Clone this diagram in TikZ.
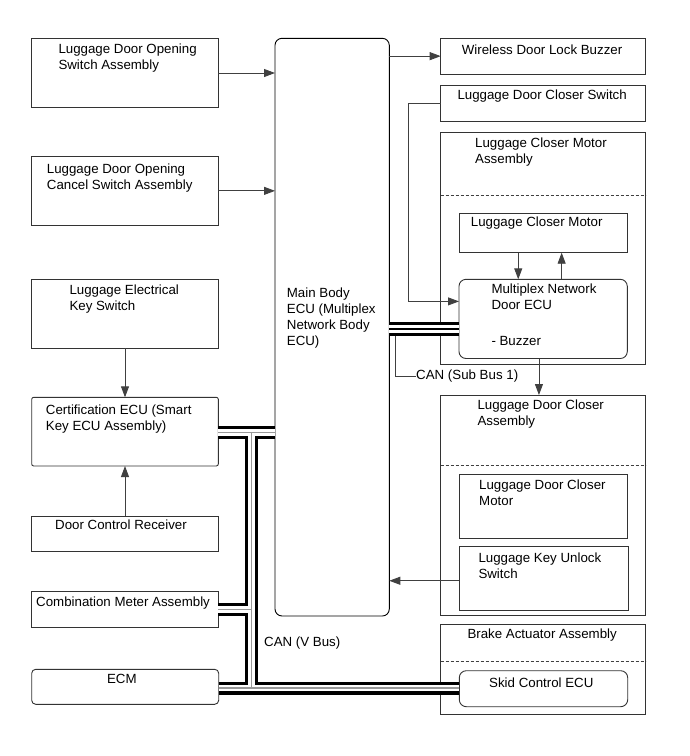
\documentclass[tikz,border=0pt]{standalone}
\usepackage{fontspec}
\setmainfont{Liberation Sans}
\usepackage{tikz}
\usetikzlibrary{arrows.meta}

\begin{document}
\begin{tikzpicture}[x=1pt,y=-1pt,
  box/.style={draw=black!80, line width=0.9pt, anchor=north west, inner sep=0pt, outer sep=0pt},
  ecu/.style={box, rounded corners=7pt},
  txt/.style={anchor=north west, align=left, inner sep=0pt, font=\fontsize{13.3}{16}\selectfont},
  link/.style={draw=black!75, line width=0.9pt},
  arr/.style={link, -{Triangle[length=11pt,width=8pt]}},
  sep/.style={draw=black!75, line width=0.8pt, dash pattern=on 3pt off 2pt},
  vbus/.style={draw=black, line width=13pt, postaction={draw=white, line width=6.6pt, postaction={draw=black!40, line width=1.2pt}}},
  sbus/.style={draw=black, line width=14pt, postaction={draw=white, line width=8.6pt, postaction={draw=black, line width=2.8pt}}}]
\useasboundingbox (0,0) rectangle (689,756);

\node[box, minimum width=186.6pt, minimum height=69.4pt] (opensw) at (31.7,38.3) {};
\node[box, minimum width=186.6pt, minimum height=68.3pt] (cancelsw) at (31.7,156.7) {};
\node[box, minimum width=186.6pt, minimum height=69pt] (keysw) at (31.7,279.3) {};
\node[box, rounded corners=2pt, minimum width=186.6pt, minimum height=68.7pt] (cert) at (31.7,397.3) {};
\node[box, minimum width=186.6pt, minimum height=35.7pt] (receiver) at (31.7,516) {};
\node[box, minimum width=186.6pt, minimum height=36pt] (combo) at (31.7,591.7) {};
\node[box, rounded corners=4pt, minimum width=187pt, minimum height=35pt] (ecm) at (31.7,669.3) {};
\node[ecu, draw=black, minimum width=114.3pt, minimum height=577.7pt] (main) at (275,38.3) {};
\node[box, minimum width=205pt, minimum height=35.7pt] (wireless) at (440.7,38.3) {};
\node[box, minimum width=205pt, minimum height=35.3pt] (closersw) at (440.7,85.7) {};
\node[box, minimum width=205pt, minimum height=231.7pt] (motorassy) at (440.7,132.3) {};
\node[box, minimum width=168.3pt, minimum height=39.4pt] (motor) at (459,213.3) {};
\node[ecu, minimum width=168.3pt, minimum height=79.2pt] (doorecu) at (459,279.3) {};
\node[box, minimum width=205pt, minimum height=220pt] (closerassy) at (440.7,395) {};
\node[box, minimum width=168.3pt, minimum height=64.3pt] (closermotor) at (459,474) {};
\node[box, minimum width=169.3pt, minimum height=63.3pt] (keyunlock) at (459,546.7) {};
\node[box, minimum width=205pt, minimum height=89.7pt] (brake) at (440.7,624.3) {};
\node[ecu, minimum width=168.4pt, minimum height=36pt] (skid) at (459.3,670.7) {};

\draw[sep] (440.7,195) -- (645.7,195);
\draw[sep] (440.7,465.7) -- (645.7,465.7);
\draw[sep] (440.7,661.7) -- (645.7,661.7);

\node[txt] (opensw-t) at (58.3,44) {Luggage Door Opening\\Switch Assembly};
\node[txt] (cancelsw-t) at (46.7,163.3) {Luggage Door Opening\\Cancel Switch Assembly};
\node[txt] (keysw-t) at (69.3,285) {Luggage Electrical\\Key Switch};
\node[txt] (cert-t) at (45.7,405) {Certification ECU (Smart\\Key ECU Assembly)};
\node[txt] (receiver-t) at (55,519.5) {Door Control Receiver};
\node[txt] (combo-t) at (36,596.7) {Combination Meter Assembly};
\node[txt] (ecm-t) at (106.9,674) {ECM};
\node[txt] (main-t) at (286.7,287.7) {Main Body\\ECU (Multiplex\\Network Body\\ECU)};
\node[txt] (wireless-t) at (461.7,45) {Wireless Door Lock Buzzer};
\node[txt] (closersw-t) at (457.3,90) {Luggage Door Closer Switch};
\node[txt] (motorassy-t) at (475,137.3) {Luggage Closer Motor\\Assembly};
\node[txt] (motor-t) at (470.7,216.7) {Luggage Closer Motor};
\node[txt] (doorecu-t) at (491.3,283.3) {Multiplex Network\\Door ECU\\[20pt]- Buzzer};
\node[txt] (closerassy-t) at (477.3,400) {Luggage Door Closer\\Assembly};
\node[txt] (closermotor-t) at (479,479.3) {Luggage Door Closer\\Motor};
\node[txt] (keyunlock-t) at (478.3,552.7) {Luggage Key Unlock\\Switch};
\node[txt] (brake-t) at (467.3,629) {Brake Actuator Assembly};
\node[txt] (skid-t) at (489,677.3) {Skid Control ECU};

\draw[arr] (opensw.east) -- (opensw.east -| main.west);
\draw[arr] (cancelsw.east) -- (cancelsw.east -| main.west);
\draw[arr] (wireless.west -| main.east) -- (wireless.west);
\draw[arr] (closersw.west) -- ++(-32.4,0) |- ([yshift=17.5pt]doorecu.west);
\draw[arr] ([xshift=-24.9pt]motor.south) -- ([xshift=-24.9pt]doorecu.north);
\draw[arr] ([xshift=18.5pt]doorecu.north) -- ([xshift=18.5pt]motor.south);
\draw[arr] ([xshift=-4.2pt]doorecu.south) -- ([xshift=-4.2pt]doorecu.south |- closerassy.north);
\draw[arr] ([yshift=-2.4pt]keyunlock.west) -- ([yshift=-2.4pt]keyunlock.west -| main.east);
\draw[arr] (keysw.south) -- (cert.north);
\draw[arr] (receiver.north) -- (cert.south);

\coordinate (vtop) at (251.7,432.5);
\coordinate (vbot) at (251.7,688);
\draw[vbus] (cert.east |- vtop) -- (main.west |- vtop)
  (vtop) -- (vbot)
  (combo.east) -- (combo.east -| vtop)
  (ecm.east |- vbot) -- (skid.west |- vbot);
\draw[sbus] (main.east |- 0,329) -- (doorecu.west |- 0,329);

\node[txt, anchor=west] (canv) at (264,642.7) {CAN (V Bus)};
\node[txt, anchor=west] (cansub) at (416,376.3) {CAN (Sub Bus 1)};
\coordinate (tap) at (395,336);
\draw[link] (tap) |- (cansub.west);
\end{tikzpicture}
\end{document}
